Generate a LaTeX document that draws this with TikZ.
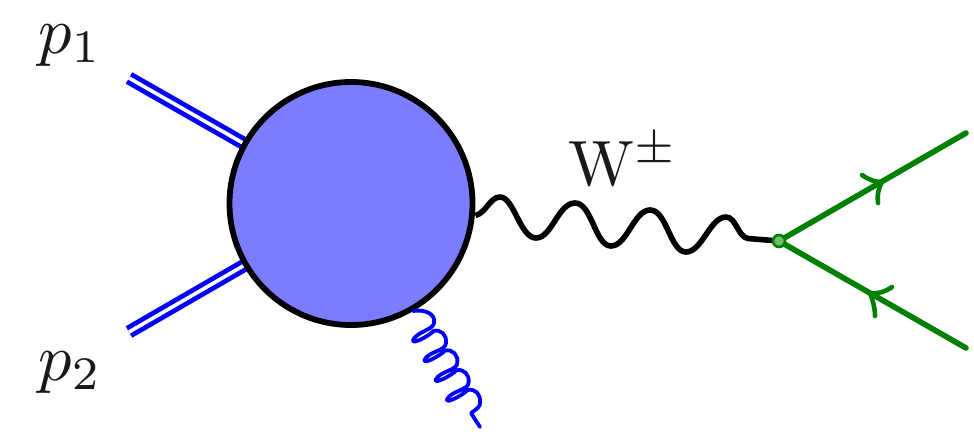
\documentclass[tikz,border=0pt]{standalone}
\usetikzlibrary{calc}
\definecolor{blobfill}{RGB}{124,124,255}
\definecolor{quark}{RGB}{0,128,0}
\definecolor{vertexfill}{RGB}{110,190,110}
\tikzset{
  blob/.style={circle,draw=black,line width=5.8pt,fill=blobfill,minimum size=243pt,inner sep=0pt},
  proton/.style={draw=blue,line width=4.8pt,double=white,double distance=3.6pt},
  wboson/.style={draw=black,line width=5.6pt,line join=round},
  gluon/.style={draw=blue,line width=3.8pt,line join=round,line cap=round},
  fermion/.style={draw=quark,line width=5.6pt,line cap=round},
  barb/.style={draw=quark,line width=4.6pt,line cap=round},
  vertexdot/.style={circle,draw=quark,line width=2.6pt,fill=vertexfill,minimum size=12pt,inner sep=0pt},
  lab/.style={anchor=base west,inner sep=0pt,scale=6.4,text=black!90}
}
\begin{document}
\begin{tikzpicture}[x=1pt,y=-1pt]
\useasboundingbox (0,0) rectangle (974,434);
\fill[white] (0,0) rectangle (974,434);
\coordinate (p1end) at (129,78);
\coordinate (p2end) at (129,332);
\coordinate (p1in) at (250,147);
\coordinate (p2in) at (250,262);
\coordinate (q1end) at (966,133);
\coordinate (q2end) at (966,348);
\coordinate (gstart) at (413,311);
\coordinate (gend) at (480,427);
\coordinate (vc) at (779,241);
\draw[proton] (p1end) -- (p1in);
\draw[proton] (p2end) -- (p2in);
\node[blob] (blob) at (351,203.5) {};
% W boson
\draw[wboson] (blob.east) ++(0,12) coordinate (wstart)
  .. controls (486,213) and (490,197) .. (500,197)
  .. controls (514,197) and (520,238) .. (536,238)
  .. controls (552,238) and (558,203) .. (575,203)
  .. controls (592,203) and (595,246) .. (611,246)
  .. controls (627,246) and (634,210) .. (650,210)
  .. controls (667,210) and (670,252) .. (686,252)
  .. controls (702,252) and (710,217) .. (726,217)
  .. controls (736,217) and (738,237) .. (748,238.5)
  -- (vc);
% fermions
\draw[fermion] (vc) -- (q1end);
\draw[fermion] (vc) -- (q2end);
\node[vertexdot] (v) at (vc) {};
\draw[barb] (862,175) .. controls (869,180) and (875,182) .. (882,182) .. controls (878,189) and (877,196) .. (878,203);
\draw[barb] (892,287) .. controls (885,292) and (877,294) .. (870,293) .. controls (873,301) and (875,308) .. (875,316);
% gluon
\draw[gluon] (gstart)
  .. controls (425,309) and (436,314) .. (434,323)
  .. controls (433,330) and (418,331) .. (413,340)
  \foreach \i in {0,1,2,3} {
    .. controls ($(412,345)+\i*(11.3,19.7)$) and ($(429,336)+\i*(11.3,19.7)$) .. ($(433.5,331)+\i*(11.3,19.7)$)
    .. controls ($(441,329)+\i*(11.3,19.7)$) and ($(447,335)+\i*(11.3,19.7)$) .. ($(446,343)+\i*(11.3,19.7)$)
    \ifnum\i<3
    .. controls ($(446,351)+\i*(11.3,19.7)$) and ($(429,351)+\i*(11.3,19.7)$) .. ($(424.3,360)+\i*(11.3,19.7)$)
    \fi
  }
  .. controls (481,406) and (477,409) .. (471,413) -- (gend);
% labels
\node[lab,scale=1.04] (lp1) at (37,53) {$p_1$};
\node[lab,scale=1.04] (lp2) at (37,380) {$p_2$};
\node[lab] (lw) at (567,185) {W$^{\pm}$};
\end{tikzpicture}
\end{document}
